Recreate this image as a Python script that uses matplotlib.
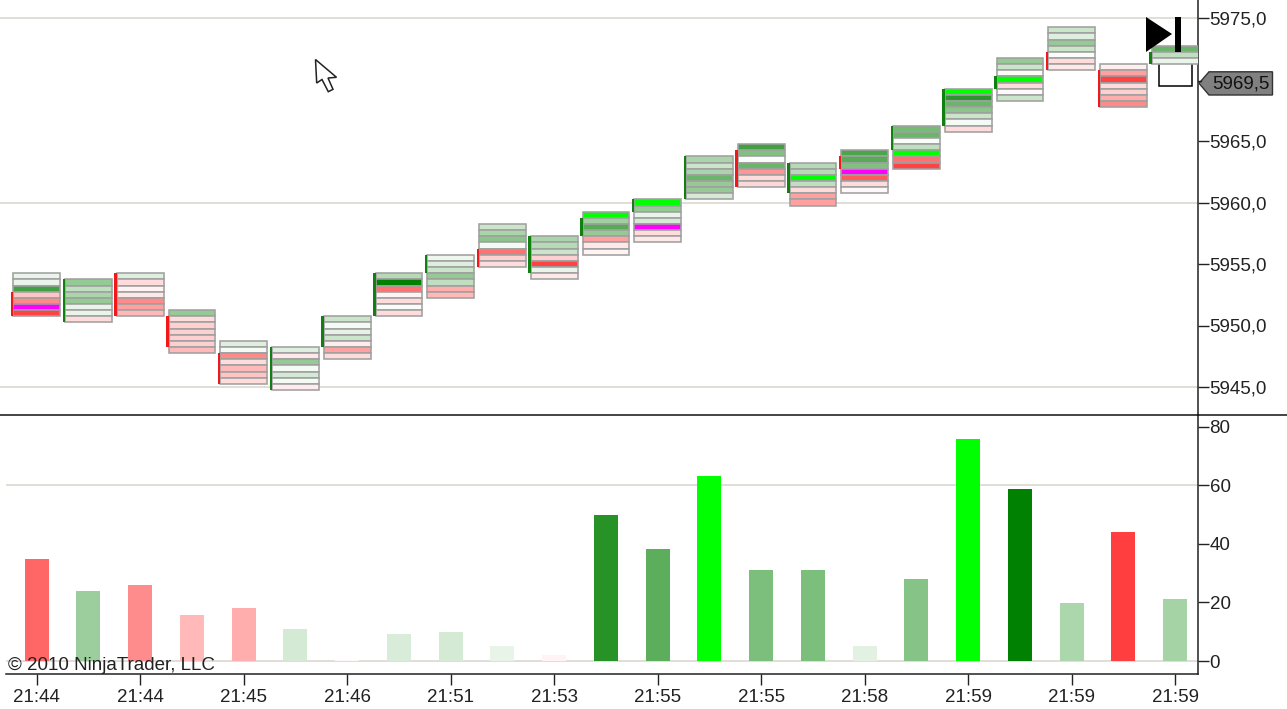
import matplotlib
matplotlib.use("Agg")
import matplotlib.pyplot as plt
from matplotlib.patches import Polygon, Rectangle

plt.rcParams['font.family'] = ['Liberation Sans', 'DejaVu Sans']

LIME, MAGENTA = 99, -99

row_tops = [5954, 5953.5, 5954, 5951, 5948.5, 5948, 5950.5, 5954, 5955.5, 5958, 5957, 5959,
            5960, 5963.5, 5964.5, 5963, 5964, 5966, 5969, 5971.5, 5974, 5971, 5972.5]
row_levels = [
    [1, 1, 9, -2.5, -5, MAGENTA, -8],
    [5, 3, 4, 5, 1, 1, -1.5],
    [1.5, -1.5, -.5, -1, -5, -4, -3],
    [5, -1.5, -2, -2, -2, -2, -3],
    [1.5, .5, -5, -1.5, -3, -2.5, -1.5],
    [1.5, -1, 5, .5, 2, .5, -.8],
    [2.5, .5, 1.2, 2.5, -.8, -4, -1.5],
    [3.5, 12, -6, -.5, -1.5, .3, -1.5],
    [.8, 1.5, 2.5, 5, 3, -3.5, -3],
    [2.5, 4, 5.5, .5, -6, -2, -1.5],
    [4, 3.5, 2.5, -2, -8, 1, -1],
    [LIME, 4.5, 8, 5, -4, -1, -.5],
    [LIME, 5, 1, 2, MAGENTA, -1.5, -1],
    [4, 2.5, 4, 7, 5, 5, 2],
    [9, 6, .2, 7, -4.5, -1.5, -1.7],
    [3.5, 3.5, LIME, 3, -1.5, -4, -4],
    [8.5, 8, 6, MAGENTA, -7, -1.5, -.3],
    [6.5, 7, .3, 3, LIME, -6, -8],
    [LIME, 10, 7, 5.5, 2.5, .5, -1.5],
    [5, 2.5, .3, LIME, -1.5, -.2, 2.5],
    [2.5, 1.5, 5, 2.5, .2, -1.5, -1],
    [-.7, -4, -8, -1.5, -2, -3.5, -5],
    [7, 3, 1],
]
body_hi = [5952.5, 5953.5, 5954, 5950.5, 5947.5, 5948, 5950.5, 5954, 5955.5, 5956, 5957, 5958.5,
           5960, 5963.5, 5964, 5963, 5963.5, 5966, 5969, 5970, 5972, 5970.5, 5972]
body_lo = [5951, 5950.5, 5951, 5948.5, 5945.5, 5945, 5948.5, 5951, 5954.5, 5955, 5954.5, 5957.5,
           5959.5, 5960.5, 5961.5, 5961, 5963, 5964.5, 5966.5, 5969.5, 5971, 5968, 5971.5]
body_up = [0, 1, 0, 0, 0, 1, 1, 1, 1, 0, 1, 1, 1, 1, 0, 1, 0, 1, 1, 1, 0, 0, 1]

volumes = [34.7, 24, 25.8, 15.8, 18.1, 11, 0.3, 9.2, 9.9, 5.1, 2.2, 49.8,
           38.1, 63.1, 31, 31, 5, 28, 75.9, 58.8, 19.9, 44, 21]
volume_levels = [-6.5, 4.7, -4.9, -3.0, -3.5, 2, -.4, 1.8, 2, 1.05, -.5, 10.2,
                 7.7, LIME, 6.2, 6.2, 1.3, 5.7, LIME, 12, 3.9, -8.2, 4.2]

price_ticks = [5945, 5950, 5955, 5960, 5965, 5975]
price_grid = [5945, 5960, 5975]
volume_ticks = [0, 20, 40, 60, 80]
volume_grid = [0, 60]
time_ticks = [0, 2, 4, 6, 8, 10, 12, 14, 16, 18, 20, 22]
time_labels = ['21:44', '21:44', '21:45', '21:46', '21:51', '21:53',
               '21:55', '21:55', '21:58', '21:59', '21:59', '21:59']
last_price = '5969,5'
open_candle = (5971.5, 5969.5)
copyright_text = '© 2010 NinjaTrader, LLC'

W, H = 1287, 709
X0, DX = 36.7, 51.75
TXT = '#222222'
GRID = '#d9d5cd'


def shade(level):
    if level == LIME:
        return (0, 1, 0)
    if level == MAGENTA:
        return (1, 0, 1)
    if level >= 0:
        a = min(level * 0.083, 1)
        return (1 - a, 1 - a * 0.498, 1 - a)
    a = min(-level * 0.092, 1)
    return (1, 1 - a, 1 - a)


def px_axes(left, top, right, bottom):
    return fig.add_axes([left / W, 1 - bottom / H, (right - left) / W, (bottom - top) / H])


fig = plt.figure(figsize=(W / 100, H / 100), dpi=100, facecolor='white')

# price panel
ax = px_axes(0, 0, 1197.7, 415)
ax.set_xlim((0 - X0) / DX, (1197.7 - X0) / DX)
ax.set_ylim(5975 - 397 / 12.3, 5975 + 18 / 12.3)
for p in price_grid:
    ax.axhline(p, color=GRID, lw=1.1, zorder=1)
ax.bar(len(row_tops) - 1, open_candle[0] - open_candle[1], bottom=open_candle[1], width=0.63,
       facecolor='white', edgecolor='black', lw=1.1, zorder=2)
for i, (top, levels) in enumerate(zip(row_tops, row_levels)):
    for k, lev in enumerate(levels):
        ax.bar(i, 0.5, bottom=top - k * 0.5 - 0.25, width=0.905, facecolor=shade(lev),
               edgecolor='#a0a0a0', lw=1.15, zorder=3)
    ax.bar(i - 0.475, body_hi[i] - body_lo[i] + 0.5, bottom=body_lo[i] - 0.25, width=0.045,
           color='#118011' if body_up[i] else '#f01818', lw=0, zorder=4)
ax.set_yticks(price_ticks)
ax.set_yticklabels([f'{p:.1f}'.replace('.', ',') for p in price_ticks])
ax.set_xticks([])

# volume panel
ax2 = px_axes(6, 415, 1197.7, 674)
ax2.set_xlim((6 - X0) / DX, (1197.7 - X0) / DX)
ax2.set_ylim(-13 / 2.93, 246 / 2.93)
for v in volume_grid:
    ax2.axhline(v, color=GRID, lw=1.1, zorder=1)
ax2.bar(range(len(volumes)), volumes, width=0.464, color=[shade(v) for v in volume_levels], lw=0, zorder=2)
ax2.set_yticks(volume_ticks)
ax2.set_xticks(time_ticks)
ax2.set_xticklabels(time_labels)

for a in (ax, ax2):
    a.patch.set_alpha(0)
    a.yaxis.tick_right()
    for s in ('top', 'left'):
        a.spines[s].set_visible(False)
    a.spines['right'].set_linewidth(1.1)
    a.spines['right'].set_color('#222222')
    a.tick_params(axis='y', length=8, width=1, pad=0.5, labelsize=13.5, labelcolor=TXT, color='#222222')
    a.tick_params(axis='x', length=8, width=1, pad=2.5, labelsize=13.5, labelcolor=TXT, color='#222222')
ax.spines['bottom'].set_visible(False)
ax2.spines['bottom'].set_linewidth(1.1)
ax2.spines['bottom'].set_color('#222222')

# overlay decorations in pixel space
ov = fig.add_axes([0, 0, 1, 1])
ov.set_xlim(0, W)
ov.set_ylim(H, 0)
ov.axis('off')
ov.plot([0, W], [415, 415], color='#111111', lw=1.1, zorder=5)
ov.add_patch(Polygon([(1146, 17), (1172, 34), (1146, 52)], closed=True, color='black', lw=0, zorder=6))
ov.add_patch(Rectangle((1175.3, 17), 5.5, 35, color='black', lw=0, zorder=6))
ov.add_patch(Polygon([(315.5, 59.5), (316.7, 83), (322, 79.5), (328.3, 91.7), (333, 89.3),
                      (328, 78), (336.5, 77.3)], closed=True, facecolor='white',
                     edgecolor='#222222', lw=1.1, zorder=6))
ov.add_patch(Polygon([(1199, 83.3), (1209, 71.8), (1272.5, 71.8), (1272.5, 95), (1209, 95)], closed=True,
                     facecolor='#808080', edgecolor='#333333', lw=1, zorder=6))
ov.plot([1197.7, 1201], [80.5, 80.5], color='#222222', lw=1, zorder=6)
ov.text(1241, 83.6, last_price, fontsize=13.5, color='#111111', ha='center', va='center', zorder=7)
ov.text(8, 670, copyright_text, fontsize=13.5, color=TXT, ha='left', va='baseline', zorder=7)

fig.savefig('out.png', dpi=100)
